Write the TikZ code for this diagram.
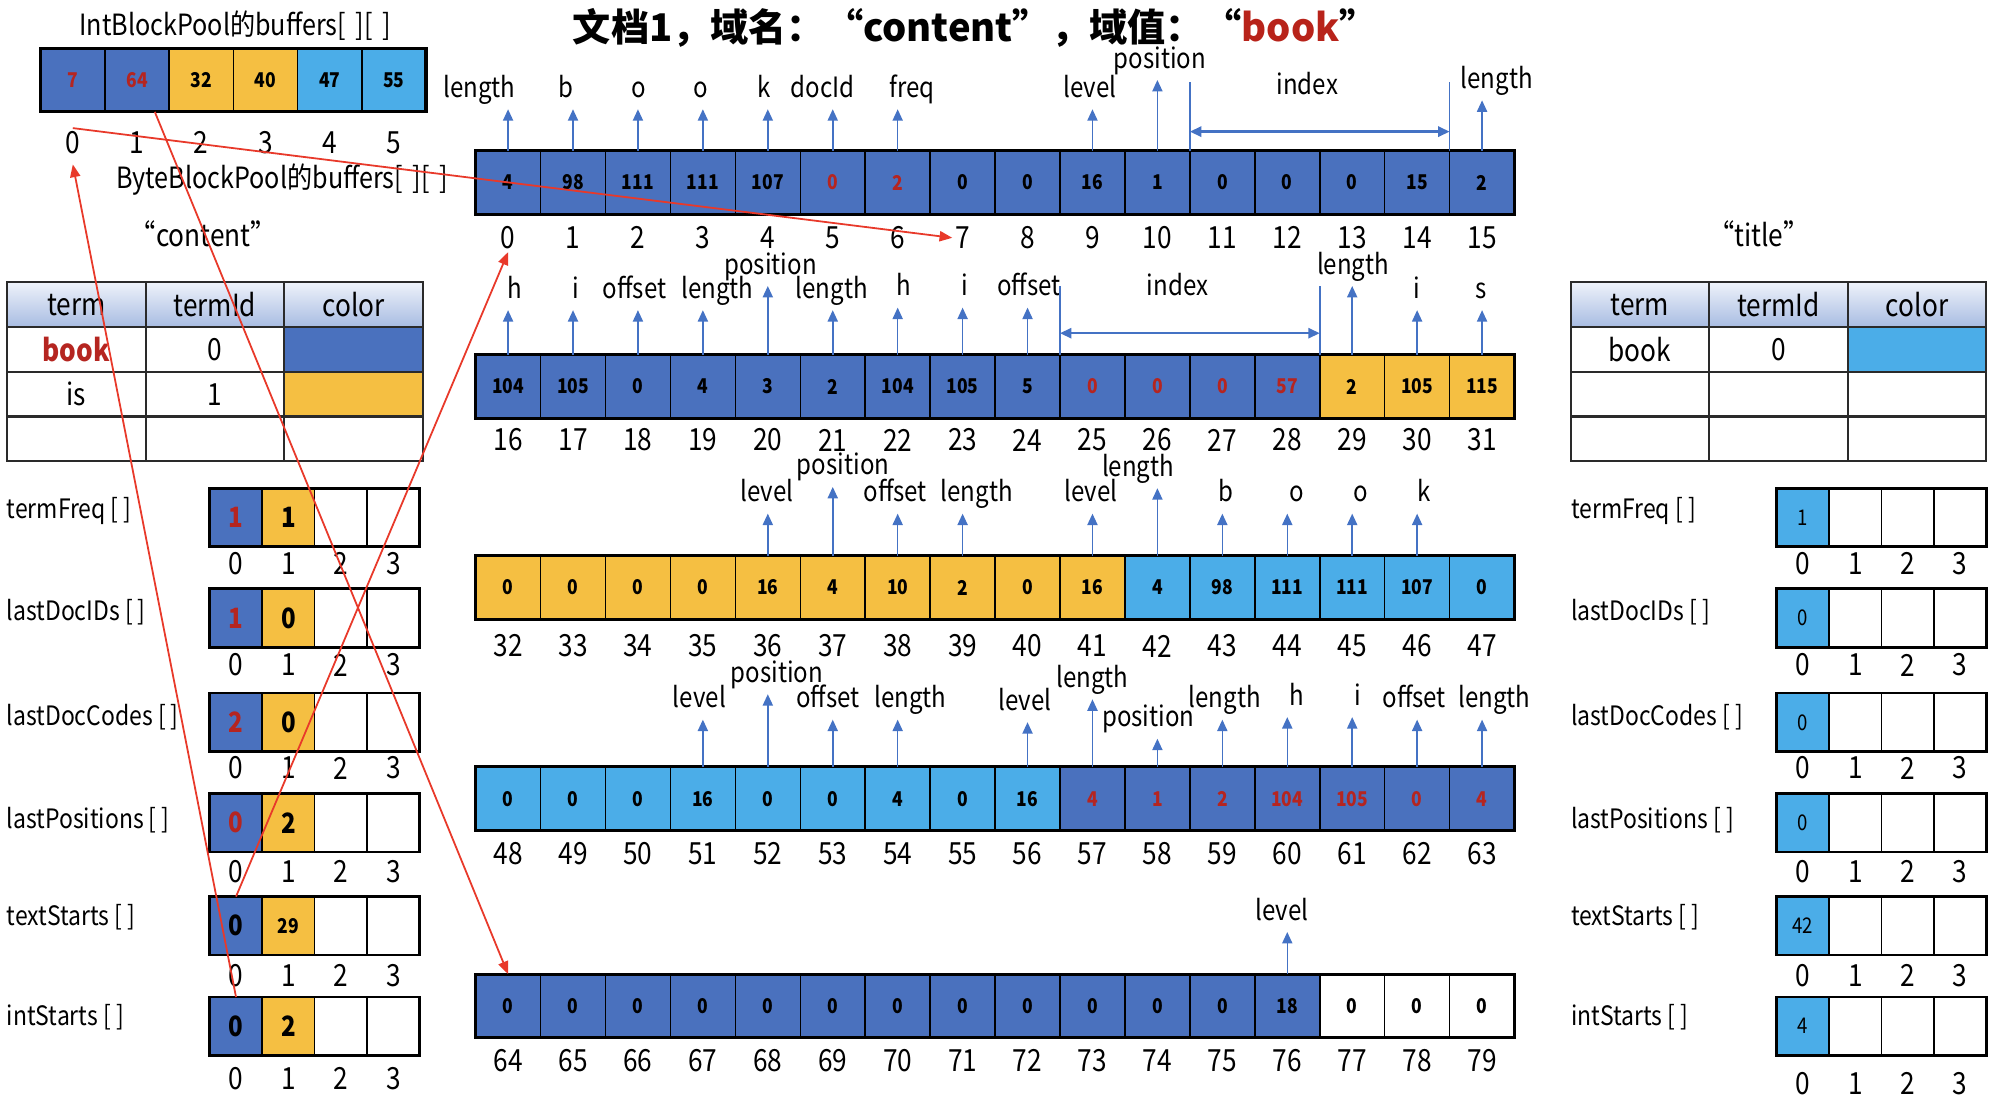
\documentclass[tikz,border=0pt]{standalone}
\usepackage{fontspec}
\setmainfont{Noto Sans CJK SC}
\newfontfamily\cf[FakeStretch=0.86]{Noto Sans CJK SC}
\usetikzlibrary{arrows.meta}
\definecolor{cB}{HTML}{4A71BE}
\definecolor{cY}{HTML}{F5BF42}
\definecolor{cL}{HTML}{4BADE8}
\definecolor{cW}{HTML}{FFFFFF}
\definecolor{txR}{HTML}{B52520}
\definecolor{txK}{HTML}{000000}
\definecolor{titR}{HTML}{B8231A}
\definecolor{arR}{HTML}{E8392A}
\definecolor{arB}{HTML}{4472C4}
\definecolor{hdTop}{HTML}{EEF2FA}
\definecolor{hdBot}{HTML}{A8BCE2}
\definecolor{tline}{HTML}{2A2A2A}
\tikzset{
 bcell/.style={draw=black, line width=0.6pt, minimum width=25.53pt, minimum height=25pt, inner sep=0pt, outer sep=0pt, font=\cf\bfseries\fontsize{8}{9}\selectfont},
 acell/.style={draw=black, line width=0.6pt, fill=white, minimum width=20.625pt, minimum height=23pt, inner sep=0pt, outer sep=0pt, font=\cf\bfseries\fontsize{11}{12}\selectfont},
 rcell/.style={acell, font=\cf\fontsize{8.5}{9}\selectfont},
 lab/.style={font=\cf\fontsize{11}{12}\selectfont, inner sep=1pt, text height=8pt, text depth=2.5pt},
 idx/.style={font=\cf\fontsize{12}{14}\selectfont, inner sep=1pt},
 alab/.style={font=\cf\fontsize{10.5}{12}\selectfont, inner sep=0pt, anchor=west},
 tcell/.style={draw=tline, line width=0.8pt, minimum width=54.5pt, minimum height=17.5pt, inner sep=0pt, outer sep=0pt, font=\cf\fontsize{12}{13}\selectfont},
 thead/.style={tcell, top color=hdTop, bottom color=hdBot},
 barrow/.style={draw=arB, line width=0.6pt, shorten >=1pt, -{Triangle[length=4.5pt,width=4pt]}},
 bline/.style={draw=arB, line width=0.6pt},
 bdarrow/.style={draw=arB, line width=0.9pt, {Triangle[length=4.5pt,width=4pt]}-{Triangle[length=4.5pt,width=4pt]}},
 rarrow/.style={draw=arR, line width=0.7pt, -{Triangle[length=5pt,width=4pt]}},
}
\newcommand\byterow[5]{%
 \foreach \v/\f/\t [count=\i from 0] in {#5} {
   \node[bcell, fill=c\f, text=tx\t] (R#1C\i) at ({399.53+51.06*\i},#2) {\v};
 }
 \draw[line width=1.2pt] (R#1C0.north west) rectangle (R#1C15.south east);
 \foreach \i in {0,...,15} {
   \pgfmathtruncatemacro\n{\i+#4}
   \node[idx] (R#1I\i) at ({399.53+51.06*\i},#3) {\n};
 }
}
\begin{document}
\begin{tikzpicture}[x=0.5pt,y=-0.5pt]
\useasboundingbox (0,0) rectangle (1568,874);

% title
\node[font=\bfseries\fontsize{15}{18}\selectfont] (title) at (767,22) {文档1，域名：“content”，域值：“\textcolor{titR}{book}”};

% IntBlockPool
\node[font=\cf\fontsize{11.5}{13}\selectfont] (ibt) at (185,20) {IntBlockPool的buffers[\,\,][\,\,]};
\foreach \v/\f/\t [count=\i from 0] in {7/B/R,64/B/R,32/Y/K,40/Y/K,47/L/K,55/L/K} {
  \node[bcell, minimum width=25.25pt, fill=c\f, text=tx\t] (IBC\i) at ({57.25+50.5*\i},63) {\v};
  \node[idx] (IBI\i) at ({57.25+50.5*\i},112) {\i};
}
\draw[line width=1.2pt] (IBC0.north west) rectangle (IBC5.south east);
\node[font=\cf\fontsize{11.5}{13}\selectfont] (bbt) at (222,141) {ByteBlockPool的buffers[\,\,][\,\,]};
\node[font=\cf\fontsize{12}{14}\selectfont] (cnt) at (160,184) {“content”};
\node[font=\cf\fontsize{12}{14}\selectfont] (ttl) at (1383,184) {“title”};

% byte rows
\byterow{1}{143.5}{187}{0}{4/B/K,98/B/K,111/B/K,111/B/K,107/B/K,0/B/R,2/B/R,0/B/K,0/B/K,16/B/K,1/B/K,0/B/K,0/B/K,0/B/K,15/B/K,2/B/K}
\byterow{2}{304}{346}{16}{104/B/K,105/B/K,0/B/K,4/B/K,3/B/K,2/B/K,104/B/K,105/B/K,5/B/K,0/B/R,0/B/R,0/B/R,57/B/R,2/Y/K,105/Y/K,115/Y/K}
\byterow{3}{462}{508}{32}{0/Y/K,0/Y/K,0/Y/K,0/Y/K,16/Y/K,4/Y/K,10/Y/K,2/Y/K,0/Y/K,16/Y/K,4/L/K,98/L/K,111/L/K,111/L/K,107/L/K,0/L/K}
\byterow{4}{628}{671}{48}{0/L/K,0/L/K,0/L/K,16/L/K,0/L/K,0/L/K,4/L/K,0/L/K,16/L/K,4/B/R,1/B/R,2/B/R,104/B/R,105/B/R,0/B/R,4/B/R}
\byterow{5}{791}{834}{64}{0/B/K,0/B/K,0/B/K,0/B/K,0/B/K,0/B/K,0/B/K,0/B/K,0/B/K,0/B/K,0/B/K,0/B/K,18/B/K,0/W/K,0/W/K,0/W/K}

% annotations
\foreach \rw/\cl/\tx/\lx/\ly in {
 1/0/length/377/71, 1/1/b/445/71, 1/2/o/502/71, 1/3/o/551/71, 1/4/k/601/71, 1/5/docId/647/71, 1/6/freq/717/71, 1/9/level/857/71, 1/10/position/912/48, 1/15/length/1177/64,
 2/0/h/405/229, 2/1/i/453/229, 2/2/offset/499/229, 2/3/length/564/229, 2/4/position/606/210, 2/5/length/654/229, 2/6/h/711/227, 2/7/i/759/227, 2/8/offset/809/227, 2/13/length/1064/210, 2/14/i/1114/229, 2/15/s/1165/229,
 3/4/level/603/389, 3/5/position/663/368, 3/6/offset/704/389, 3/7/length/768/389, 3/9/level/858/389, 3/10/length/895/369, 3/11/b/964/389, 3/12/o/1020/389, 3/13/o/1070/389, 3/14/k/1120/389,
 4/3/level/550/551, 4/4/position/611/531, 4/5/offset/651/551, 4/6/length/716/551, 4/8/level/806/553, 4/9/length/859/535, 4/10/position/903/566, 4/11/length/963/551, 4/12/h/1020/549, 4/13/i/1068/549, 4/14/offset/1112/551, 4/15/length/1175/551,
 5/12/level/1008/718} {
  \node[lab] (A\rw-\cl) at (\lx,\ly) {\tx};
  \draw[barrow] (R\rw C\cl.north) -- (R\rw C\cl.north |- A\rw-\cl.south);
}
% index spans
\node[lab] (IX1) at (1028,69) {index};
\draw[bline] (R1C10.north east) -- ([yshift=27pt]R1C10.north east);
\draw[bline] (R1C14.north east) -- ([yshift=27pt]R1C14.north east);
\draw[bdarrow] ([yshift=7.5pt]R1C10.north east) -- ([yshift=7.5pt]R1C14.north east);
\node[lab] (IX2) at (926,227) {index};
\draw[bline] (R2C8.north east) -- ([yshift=27pt]R2C8.north east);
\draw[bline] (R2C12.north east) -- ([yshift=27pt]R2C12.north east);
\draw[bdarrow] ([yshift=8.5pt]R2C8.north east) -- ([yshift=8.5pt]R2C12.north east);

% tables
\foreach \j/\h in {0/term,1/termId,2/color} {
  \node[thead] (LTH\j) at ({60+109*\j},239.5) {\h};
  \node[thead] (RTH\j) at ({1289.5+109*\j},239.5) {\h};
}
\node[tcell] (LT10) at (60,275) {\textcolor{txR}{\bfseries book}};
\node[tcell] (LT11) at (169,275) {0};
\node[tcell, fill=cB] (LT12) at (278,275) {};
\node[tcell] (LT20) at (60,310) {is};
\node[tcell] (LT21) at (169,310) {1};
\node[tcell, fill=cY] (LT22) at (278,310) {};
\node[tcell] (LT30) at (60,345) {};
\node[tcell] (LT31) at (169,345) {};
\node[tcell] (LT32) at (278,345) {};
\node[tcell] (RT10) at (1289.5,275) {book};
\node[tcell] (RT11) at (1398.5,275) {0};
\node[tcell, fill=cL] (RT12) at (1507.5,275) {};
\node[tcell] (RT20) at (1289.5,310) {};
\node[tcell] (RT21) at (1398.5,310) {};
\node[tcell] (RT22) at (1507.5,310) {};
\node[tcell] (RT30) at (1289.5,345) {};
\node[tcell] (RT31) at (1398.5,345) {};
\node[tcell] (RT32) at (1507.5,345) {};

% left arrays
\foreach \nm/\lbl/\y/\iy/\ly/\fa/\ta/\ca/\fb/\tb/\cb in {
 tf/termFreq [ ]/407/443/402/cB/1/txR/cY/1/txK,
 ld/lastDocIDs [ ]/486/523/481/cB/1/txR/cY/0/txK,
 dc/lastDocCodes [ ]/568/604/564/cB/2/txR/cY/0/txK,
 lp/lastPositions [ ]/647/685/645/cB/0/txR/cY/2/txK,
 ts/textStarts [ ]/728/767/721/cB/0/txK/cY/{\fontsize{8}{9}\selectfont 29}/txK,
 is/intStarts [ ]/807/848/800/cB/0/txK/cY/2/txK} {
  \node[alab] (L\nm) at (5,\ly) {\lbl};
  \node[acell, fill=\fa, text=\ca] (L\nm0) at (185.6,\y) {\ta};
  \node[acell, fill=\fb, text=\cb] (L\nm1) at (226.9,\y) {\tb};
  \node[acell] (L\nm2) at (268.1,\y) {};
  \node[acell] (L\nm3) at (309.4,\y) {};
  \draw[line width=1.1pt] (L\nm0.north west) rectangle (L\nm3.south east);
  \foreach \k/\xx in {0/185.6,1/226.9,2/268.1,3/309.4} \node[idx] (L\nm I\k) at (\xx,\iy) {\k};
}
% right arrays
\foreach \nm/\lbl/\y/\iy/\ly/\ta in {
 tf/termFreq [ ]/407/443/402/1,
 ld/lastDocIDs [ ]/486/523/481/0,
 dc/lastDocCodes [ ]/568/604/564/0,
 lp/lastPositions [ ]/647/685/645/0,
 ts/textStarts [ ]/728/767/721/42,
 is/intStarts [ ]/807/852/800/4} {
  \node[alab] (Q\nm) at (1235,\ly) {\lbl};
  \node[rcell, fill=cL] (Q\nm0) at (1417.6,\y) {\ta};
  \node[rcell] (Q\nm1) at (1458.9,\y) {};
  \node[rcell] (Q\nm2) at (1500.1,\y) {};
  \node[rcell] (Q\nm3) at (1541.4,\y) {};
  \draw[line width=1.1pt] (Q\nm0.north west) rectangle (Q\nm3.south east);
  \foreach \k/\xx in {0/1417.6,1/1458.9,2/1500.1,3/1541.4} \node[idx] (Q\nm I\k) at (\xx,\iy) {\k};
}

% red pointers
\draw[rarrow] (IBI0.north) -- (R1I7.west);
\draw[rarrow] ([xshift=7pt]IBC1.south) -- (R5C0.north);
\draw[rarrow] (Lts0.north) -- (R1I0.south);
\draw[rarrow] (Lis0.north) -- ([yshift=-3pt]IBI0.south);
\end{tikzpicture}
\end{document}
